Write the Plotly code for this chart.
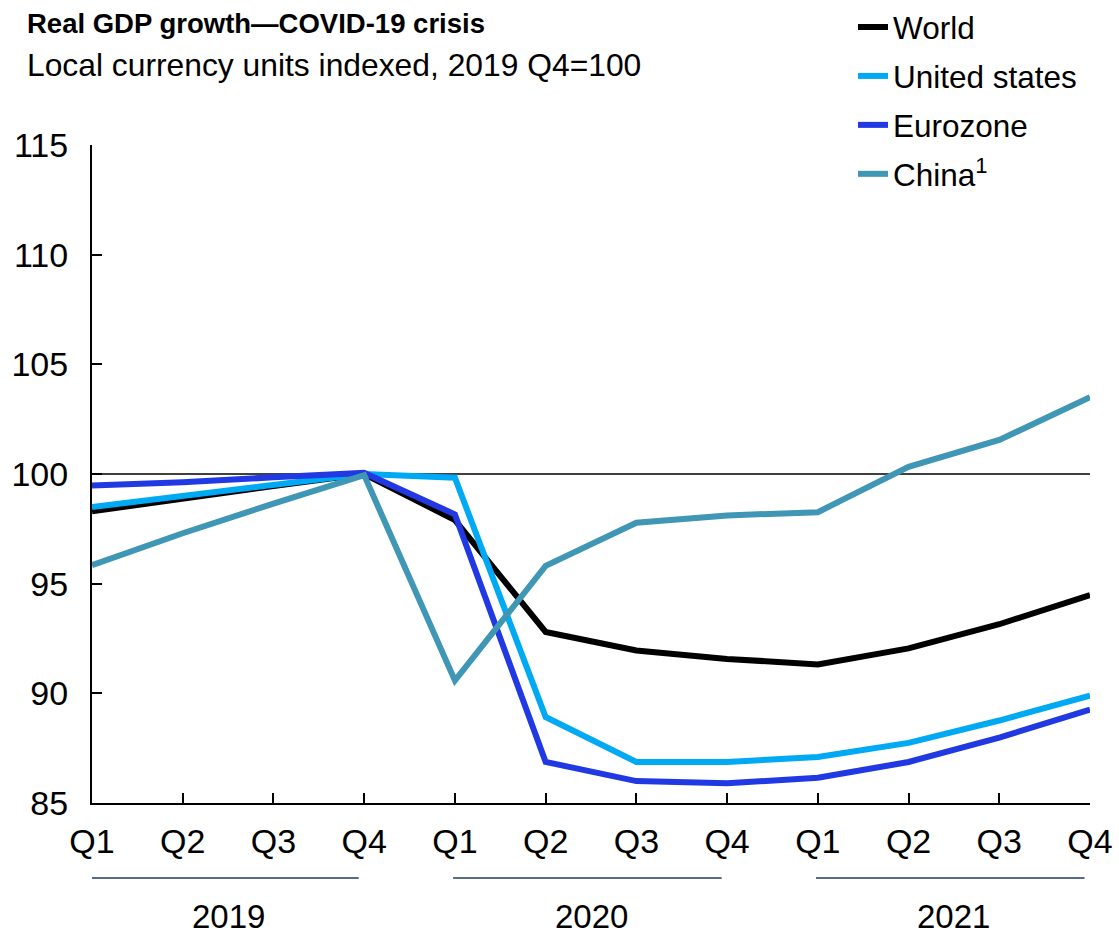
import plotly.graph_objects as go

quarters = ["Q1", "Q2", "Q3", "Q4"] * 3
years = ["2019", "2020", "2021"]
x_idx = list(range(12))

world = [98.3, 98.9, 99.45, 100.0, 97.9, 92.8, 91.95, 91.57, 91.32, 92.05, 93.15, 94.48]
united_states = [98.5, 99.0, 99.5, 100.0, 99.83, 88.92, 86.87, 86.87, 87.1, 87.74, 88.76, 89.9]
eurozone = [99.48, 99.62, 99.85, 100.05, 98.16, 86.87, 86.0, 85.9, 86.15, 86.87, 87.98, 89.26]
china = [95.84, 97.3, 98.65, 99.95, 90.58, 95.81, 97.78, 98.11, 98.26, 100.33, 101.55, 103.5]

series = [
    ("World", world, "#000000"),
    ("United states", united_states, "#00A9F4"),
    ("Eurozone", eurozone, "#2139E3"),
    ("China<sup>1</sup>", china, "#3F96B5"),
]

FONT = "Liberation Sans, Arial, sans-serif"
W, H = 1119, 938
ML, MR, MT, MB = 92, 29, 145, 135
PW, PH = W - ML - MR, H - MT - MB


def px_to_paper_x(px):
    return (px - ML) / PW


def px_to_paper_y(py):
    return (H - MB - py) / PH


fig = go.Figure()
for i, (name, vals, col) in enumerate(series):
    fig.add_trace(go.Scatter(
        x=x_idx, y=vals, mode="lines", name=name,
        line=dict(color=col, width=6),
        legendgroup=f"g{i}",
    ))

# reference line at 100
fig.add_shape(type="line", xref="x", yref="y", x0=0, x1=11, y0=100, y1=100,
              line=dict(color="black", width=1.5), layer="below")

# year underline segments and labels
for k, yr in enumerate(years):
    x0 = 4 * k
    x1 = 4 * k + 3
    fig.add_shape(type="line", xref="x", yref="paper", x0=x0 - 0.02, x1=x1 - 0.06,
                  y0=px_to_paper_y(878), y1=px_to_paper_y(878),
                  line=dict(color="#1F3864", width=1.5))
    fig.add_annotation(x=(x0 + x1) / 2, y=px_to_paper_y(916), xref="x", yref="paper",
                       text=yr, showarrow=False,
                       font=dict(size=33, color="black", family=FONT),
                       xanchor="center", yanchor="middle", borderpad=0)

# subtitle
fig.add_annotation(x=px_to_paper_x(25), y=px_to_paper_y(65), xref="paper", yref="paper",
                   text="Local currency units indexed, 2019 Q4=100", showarrow=False,
                   font=dict(size=31.8, family=FONT, color="black"),
                   xanchor="left", yanchor="middle")

fig.update_layout(
    width=W, height=H,
    margin=dict(l=ML, r=MR, t=MT, b=MB, autoexpand=False),
    paper_bgcolor="white", plot_bgcolor="white",
    font=dict(family=FONT, color="black"),
    title=dict(text="<b>Real GDP growth—COVID-19 crisis</b>", x=27 / W, xanchor="left",
               xref="container", y=1 - 23 / H, yref="container", yanchor="middle",
               font=dict(size=27.5, family=FONT, color="black")),
    legend=dict(x=px_to_paper_x(853), xref="paper", xanchor="left",
                y=px_to_paper_y(0), yref="paper", yanchor="top",
                font=dict(size=31.5, family=FONT, color="black"),
                bgcolor="rgba(0,0,0,0)", tracegroupgap=5),
    showlegend=True,
)

fig.update_xaxes(range=[0, 11], tickmode="array", tickvals=x_idx, ticktext=quarters,
                 showgrid=False, zeroline=False, showline=True, linecolor="black", linewidth=2,
                 ticks="inside", ticklen=10, tickwidth=1.5, tickcolor="black",
                 tickfont=dict(size=34, family=FONT, color="black"), ticklabelstandoff=7)
fig.update_yaxes(range=[85, 115], tickmode="array", tickvals=[85, 90, 95, 100, 105, 110, 115],
                 showgrid=False, zeroline=False, showline=True, linecolor="black", linewidth=2,
                 ticks="inside", ticklen=10, tickwidth=1.5, tickcolor="black",
                 tickfont=dict(size=34, family=FONT, color="black"), ticklabelstandoff=15)

fig.write_html("out.html", config={"displayModeBar": False},
               post_script="document.body.style.margin='0';")
